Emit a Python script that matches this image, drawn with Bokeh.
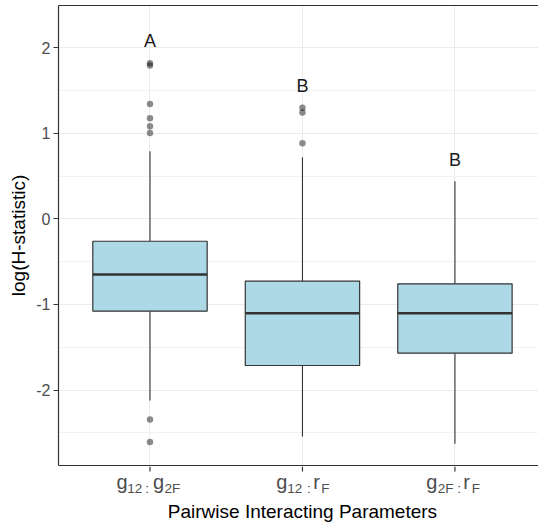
import numpy as np
from bokeh.plotting import figure
from bokeh.layouts import column
from bokeh.models import Range1d, FixedTicker, LinearAxis
from bokeh.core.properties import value
from bokeh.embed import file_html
from bokeh.resources import INLINE

# ---------------- data ----------------
groups = [1, 2, 3]
q1 = [-1.079, -1.714, -1.570]
q3 = [-0.262, -0.729, -0.759]
medians = [-0.651, -1.103, -1.103]
whisk_low = [-2.123, -2.543, -2.628]
whisk_high = [0.790, 0.720, 0.439]

outlier_group = [1, 1, 1, 1, 1, 1, 1, 1, 2, 2, 2]
outlier_value = [1.816, 1.790, 1.342, 1.174, 1.080, 1.003, -2.345, -2.607,
                 1.297, 1.242, 0.883]

letters = ["A", "B", "B"]
letter_y = [2.083, 1.557, 0.691]

y_ticks = [-2, -1, 0, 1, 2]
y_tick_labels = ["-2", "-1", "0", "1", "2"]
y_minor = [-2.5, -1.5, -0.5, 0.5, 1.5, 2.5]

# tick label pieces and whether each piece is a subscript
tick_parts = [["g", "12", ":", "g", "2F"],
              ["g", "12", ":", "r", "F"],
              ["g", "2F", ":", "r", "F"]]
tick_sub = [[0, 1, 1, 0, 1],
            [0, 1, 1, 0, 1],
            [0, 1, 1, 0, 1]]

x_title = "Pairwise Interacting Parameters"
y_title = "log(H-statistic)"

# ---------------- layout ----------------
W = 538
H_MAIN = 466          # main figure; frame from y=5 to y=465
H_BOT = 523 - H_MAIN  # strip below with x tick labels and title
FL, FT = 58, 5
y0, y1 = -2.882, 2.492
x0, x1 = 0.4, 3.548
FONT = "Liberation Sans"
BORDER = "#333333"
MAIN_SIZE, SUB_SIZE = 20, 13.5

# horizontal centre offsets (px) of each piece relative to the category centre
piece_off = [[-28.0, -15.3, -2.8, 8.5, 22.5],
             [-20.6, -7.8, 6.3, 14.1, 23.0],
             [-23.1, -9.3, 4.1, 11.6, 21.0]]

xr = Range1d(x0, x1)
p = figure(width=W, height=H_MAIN, x_range=xr, y_range=Range1d(y0, y1),
           output_backend="svg", toolbar_location=None,
           x_axis_location=None,
           min_border_left=FL, min_border_right=0, min_border_top=FT,
           min_border_bottom=1)
p.outline_line_color = None
p.background_fill_color = "white"
p.border_fill_color = "white"

p.yaxis.ticker = FixedTicker(ticks=y_ticks, minor_ticks=y_minor)
p.yaxis.major_label_overrides = dict(zip(y_ticks, y_tick_labels))
p.yaxis.axis_line_color = BORDER
p.yaxis.axis_line_width = 1.2
p.yaxis.major_tick_line_color = BORDER
p.yaxis.major_tick_out = 5
p.yaxis.major_tick_in = 0
p.yaxis.minor_tick_line_color = None
p.yaxis.major_label_text_font = FONT
p.yaxis.major_label_text_font_size = "16px"
p.yaxis.major_label_text_color = "#4D4D4D"
p.yaxis.major_label_standoff = 3
p.yaxis.axis_label = y_title
p.yaxis.axis_label_text_font = FONT
p.yaxis.axis_label_text_font_size = "19px"
p.yaxis.axis_label_text_font_style = "normal"
p.yaxis.axis_label_text_color = "black"
p.yaxis.axis_label_standoff = 4

for loc in ("above", "below"):
    ax = LinearAxis(ticker=FixedTicker(ticks=[]), axis_line_color=BORDER,
                    axis_line_width=1.2, major_tick_out=0, major_tick_in=0,
                    minor_tick_out=0, minor_tick_in=0, major_label_standoff=0)
    p.add_layout(ax, loc)

# grid
p.xgrid.ticker = FixedTicker(ticks=groups)
p.xgrid.grid_line_color = "#EBEBEB"
p.ygrid.ticker = FixedTicker(ticks=y_ticks, minor_ticks=y_minor)
p.ygrid.grid_line_color = "#EBEBEB"
p.ygrid.minor_grid_line_color = "#F2F2F2"

# boxes
gx = np.array(groups, dtype=float)
bw = 0.75
p.segment(x0=gx, x1=gx, y0=q3, y1=whisk_high, line_color=BORDER, line_width=1.1)
p.segment(x0=gx, x1=gx, y0=q1, y1=whisk_low, line_color=BORDER, line_width=1.1)
p.vbar(x=gx, width=bw, top=q3, bottom=q1, fill_color="#ADD8E6",
       line_color=BORDER, line_width=1.2)
p.segment(x0=gx - bw / 2, x1=gx + bw / 2, y0=medians, y1=medians,
          line_color=BORDER, line_width=2.6)

p.scatter(x=outlier_group, y=outlier_value, size=6.5, fill_color="black",
          fill_alpha=0.45, line_color=None)

p.text(x=groups, y=letter_y, text=letters, text_align="center",
       text_baseline="middle", text_font=value(FONT),
       text_font_size="18px", text_color="#1A1A1A")

# ---------------- bottom strip: ticks, tick labels, title ----------------
# y in this strip = px below the top of the strip (strip starts at y=466)
b = figure(width=W, height=H_BOT, x_range=xr, y_range=Range1d(H_BOT, 0),
           output_backend="svg", toolbar_location=None,
           x_axis_location=None, y_axis_location=None,
           min_border_left=FL, min_border_right=0, min_border_top=0,
           min_border_bottom=0)
b.outline_line_color = None
b.xgrid.visible = False
b.ygrid.visible = False
b.background_fill_color = "white"
b.border_fill_color = "white"

b.segment(x0=gx, x1=gx, y0=[0] * 3, y1=[5] * 3, line_color=BORDER, line_width=1.2)

px, py, pt, pf, po = [], [], [], [], []
MAIN_MID = 488.5 - 466 - 0.347 * MAIN_SIZE
SUB_MID = 492.5 - 466 - 0.347 * SUB_SIZE
for gi, g in enumerate(groups):
    for txt, sub, off in zip(tick_parts[gi], tick_sub[gi], piece_off[gi]):
        px.append(g)
        py.append(SUB_MID if sub else MAIN_MID)
        pt.append(txt)
        pf.append(f"{SUB_SIZE}px" if sub else f"{MAIN_SIZE}px")
        po.append(off)
b.text(x=px, y=py, text=pt, x_offset=po, text_font_size=pf,
       text_align="center", text_baseline="middle", text_font=value(FONT),
       text_color="#4D4D4D")

b.text(x=[2], y=[517.5 - 466 - 0.347 * 19], text=[x_title], text_align="center",
       text_baseline="middle", text_font=value(FONT), text_font_size="19px",
       text_color="black")

layout = column(p, b, spacing=0)
open("out.html", "w").write(file_html(layout, INLINE))
